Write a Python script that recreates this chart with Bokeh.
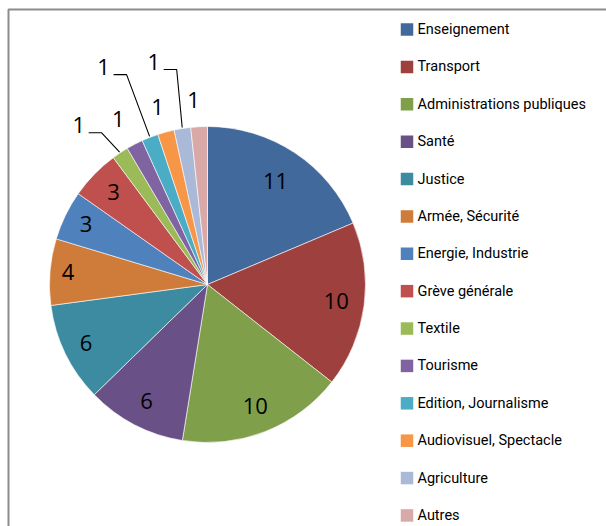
import math
from bokeh.plotting import figure
from bokeh.models import Range1d, ColumnDataSource
from bokeh.core.properties import value
from bokeh.embed import file_html
from bokeh.resources import INLINE

# ---- data ----
categories = ["Enseignement", "Transport", "Administrations publiques", "Santé",
              "Justice", "Armée, Sécurité", "Energie, Industrie", "Grève générale",
              "Textile", "Tourisme", "Edition, Journalisme", "Audiovisuel, Spectacle",
              "Agriculture", "Autres"]
values = [11, 10, 10, 6, 6, 4, 3, 3, 1, 1, 1, 1, 1, 1]
colors = ["#41699C", "#9E413E", "#809F4A", "#695188", "#3D8BA0", "#CF7B39",
          "#4F81BD", "#C0504D", "#9BBB59", "#8064A2", "#4BACC6", "#F79646",
          "#AAB9D8", "#D9A9A8"]

# ---- layout (pixels) ----
W, H = 606, 526
CX, CY, R = 207, 284, 158
label_r = [123, 130, 131, 132, 135, 140, 135, 131, 204, 187, 240, 183, 228, 184]
label_shift = [0, 0, 0, 0, 0, 0, 0, 0, -5.6, -1.0, -4.3, -0.6, -4.5, -1.3]
leader = [False] * 8 + [True, False, True, False, True, False]
LEG_X, LEG_Y0, LEG_DY = 400, 29, 37.38

def Y(y):  # pixel-from-top -> data
    return H - y

total = sum(values)
starts, ends, mids = [], [], []
cum = 0
for v in values:
    a0 = cum / total * 2 * math.pi
    cum += v
    a1 = cum / total * 2 * math.pi
    starts.append(math.pi / 2 - a0)
    ends.append(math.pi / 2 - a1)
    mids.append((a0 + a1) / 2)

p = figure(width=W, height=H, x_range=Range1d(0, W), y_range=Range1d(0, H),
           min_border=0, toolbar_location=None, output_backend="svg",
           x_axis_location=None, y_axis_location=None)
p.grid.visible = False
p.outline_line_color = None
p.background_fill_color = "white"
p.border_fill_color = "white"

# chart area border
p.line(x=[8, 8, W + 20], y=[-20, Y(9), Y(9)], line_color="#8C8C8C", line_width=2)

src = ColumnDataSource(dict(start=starts, end=ends, color=colors, cat=categories, val=values))
p.wedge(x=CX, y=Y(CY), radius=R, start_angle="start", end_angle="end",
        direction="clock", fill_color="color", line_color="white", line_width=0.6,
        source=src)

# data labels
lx, ly, lt = [], [], []
lead_xs, lead_ys = [], []
for i, v in enumerate(values):
    th = mids[i] + math.radians(label_shift[i])
    x = CX + label_r[i] * math.sin(th)
    y = CY - label_r[i] * math.cos(th)
    lx.append(x)
    ly.append(Y(y - 1))
    lt.append(str(v))
    if leader[i]:
        ex = CX + (R + 1) * math.sin(mids[i])
        ey = CY - (R + 1) * math.cos(mids[i])
        lead_xs.append([x + 10, x + 23, ex])
        lead_ys.append([Y(y + 6.5), Y(y + 6.5), Y(ey)])

p.multi_line(xs=lead_xs, ys=lead_ys, line_color="black", line_width=1.1)
p.text(x=lx, y=ly, text=lt, text_align="center", text_baseline="middle",
       text_font=value("Open Sans"), text_font_size="22px", text_color="black")

# legend
rows = [LEG_Y0 + i * LEG_DY for i in range(len(categories))]
p.rect(x=[LEG_X + 6.5] * len(rows), y=[Y(r) for r in rows], width=12.5, height=12.5,
       fill_color=colors, line_color=None)
p.text(x=[LEG_X + 17] * len(rows), y=[Y(r) for r in rows], text=categories,
       text_align="left", text_baseline="middle",
       text_font=value("Roboto"), text_font_size="14.5px",
       text_color="black")

open("out.html", "w").write(file_html(p, INLINE))
